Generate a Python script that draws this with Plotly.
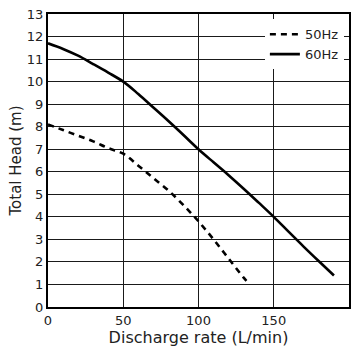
import plotly.graph_objects as go

# Discharge rate (L/min)
q_50 = [0, 10, 20, 30, 40, 50, 60, 70, 80, 90, 100, 110, 120, 130, 134]
h_50 = [8.1, 7.85, 7.6, 7.35, 7.05, 6.8, 6.27, 5.72, 5.17, 4.52, 3.8, 3.0, 2.15, 1.3, 1.0]

q_60 = [0, 10, 20, 30, 40, 50, 60, 70, 80, 90, 100, 110, 120, 130, 140, 150, 160, 170, 180, 190]
h_60 = [11.7, 11.45, 11.15, 10.78, 10.4, 10.0, 9.45, 8.85, 8.25, 7.63, 7.0, 6.42, 5.85, 5.25, 4.63,
        4.0, 3.33, 2.67, 2.03, 1.4]

x_ticks = [0, 50, 100, 150, 200]
y_ticks = list(range(0, 14))

FONT = "DejaVu Sans"

fig = go.Figure()
fig.add_trace(go.Scatter(x=q_50, y=h_50, mode="lines", name="50Hz",
                         line=dict(color="black", width=2.6, dash="6px,5px"),
                         line_shape="spline"))
fig.add_trace(go.Scatter(x=q_60, y=h_60, mode="lines", name="60Hz",
                         line=dict(color="black", width=2.6),
                         line_shape="spline"))

fig.update_layout(
    width=361, height=351,
    margin=dict(l=48, r=12, t=14, b=44),
    paper_bgcolor="white", plot_bgcolor="white",
    font=dict(family=FONT, size=13, color="#222"),
    showlegend=True,
    legend=dict(x=0.983, xanchor="right", y=0.982, yanchor="top",
                bgcolor="white", borderwidth=0, font=dict(size=13),
                tracegroupgap=0),
    xaxis=dict(range=[0, 200], tickmode="array", tickvals=x_ticks,
               showgrid=True, gridcolor="#1a1a1a", gridwidth=1, griddash="solid",
               showline=True, linecolor="black", linewidth=2, mirror=True, ticks="",
               zeroline=False, automargin=False,
               title=dict(text="Discharge rate (L/min)", standoff=4, font=dict(size=16))),
    yaxis=dict(range=[0, 13], tickmode="array", tickvals=y_ticks,
               showgrid=True, gridcolor="#1a1a1a", gridwidth=1, griddash="solid",
               showline=True, linecolor="black", linewidth=2, mirror=True, ticks="",
               zeroline=False, automargin=False,
               title=dict(text="Total Head (m)", standoff=2, font=dict(size=15))),
)

fig.write_html("out.html", config={"displayModeBar": False},
               post_script="document.body.style.margin='0';")
